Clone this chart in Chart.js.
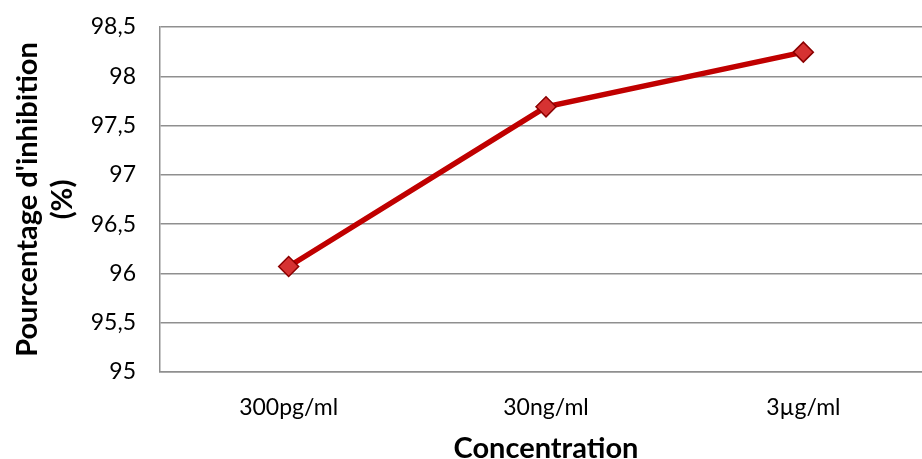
<!DOCTYPE html>
<html><head><meta charset="utf-8">
<script src="https://cdn.jsdelivr.net/npm/chart.js@4"></script>
<style>html,body{margin:0;padding:0;overflow:hidden;background:#fff;width:922px;height:459px}canvas{position:absolute;left:0;top:0}</style>
</head><body><canvas id="c" width="934" height="463"></canvas>
<script>
const categories = ["300pg/ml", "30ng/ml", "3µg/ml"];
const inhibition = [96.07, 97.69, 98.245];
const yTicks = [95, 95.5, 96, 96.5, 97, 97.5, 98, 98.5];
const yTitle = ["Pourcentage d'inhibition", "(%)"];
const xTitle = "Concentration";

new Chart(document.getElementById('c'), {
  type: 'line',
  data: { labels: categories, datasets: [{
    data: inhibition,
    borderColor: '#C00000', borderWidth: 5.5,
    pointStyle: 'rectRot', pointRadius: 10, pointHoverRadius: 10,
    pointBackgroundColor: '#D63232', pointBorderColor: '#8B0000', pointBorderWidth: 1.5,
    tension: 0
  }]},
  options: {
    responsive: false, animation: false, devicePixelRatio: 1,
    layout: { autoPadding: false, padding: { top: 27, right: 2, bottom: 0, left: 10 } },
    plugins: { legend: { display: false }, tooltip: { enabled: false } },
    scales: {
      x: {
        offset: true,
        afterFit: (s) => { s.height = 91; s.paddingLeft = 0; s.paddingRight = 0; },
        grid: { display: false, drawTicks: false, offset: false },
        border: { color: '#8f8f8f', width: 1.5 },
        ticks: { color: '#000', font: { family: 'Lato', size: 23, lineHeight: 1.0 }, padding: 24 },
        title: { display: true, text: xTitle, color: '#000', font: { family: 'Lato', size: 29, weight: 'bold', lineHeight: 1.0 }, padding: { top: 13, bottom: 0 } }
      },
      y: {
        min: 95, max: 98.5,
        afterFit: (s) => { s.width = 150; s.paddingTop = 0; s.paddingBottom = 0; },
        afterBuildTicks: (s) => { s.ticks = yTicks.map(v => ({ value: v })); },
        grid: { color: '#8f8f8f', lineWidth: 1.5, drawTicks: false },
        border: { color: '#8f8f8f', width: 1.5 },
        ticks: { color: '#000', font: { family: 'Lato', size: 23 }, padding: 24,
          callback: (v) => String(v).replace('.', ',') },
        title: { display: true, text: yTitle, color: '#000', font: { family: 'Lato', size: 29, weight: 'bold', lineHeight: 1.22 }, padding: { top: 0, bottom: 8 } }
      }
    }
  }
});
</script></body></html>
